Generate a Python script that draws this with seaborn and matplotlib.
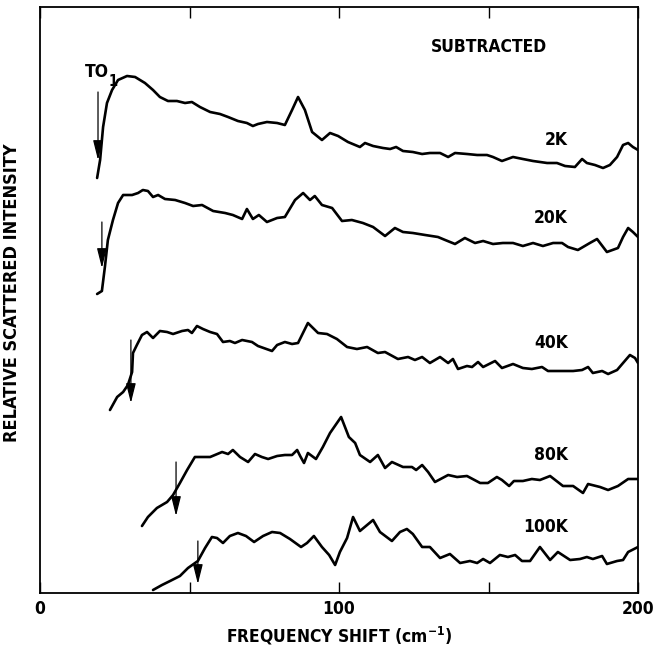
import numpy as np
import pandas as pd
import matplotlib
matplotlib.use("Agg")
import matplotlib.pyplot as plt
import seaborn as sns
from matplotlib import font_manager

# ---------------- data (frequency shift in cm^-1, relative intensity in arbitrary units) -------------
x_2k = [19.1, 20.1, 21.1, 22.4, 24.1, 26.1, 29.1, 31.8, 35.1, 37.8, 40.1, 42.8, 45.8, 48.5, 50.8, 53.5,
        56.9, 60.2, 62.9, 66.2, 69.2, 71.2, 72.9, 75.9, 79.3, 81.9, 84.3, 86.3, 88.6, 91.0, 94.3, 97.0,
        99.7, 103.0, 107.0, 108.7, 111.4, 114.7, 117.1, 119.1, 121.4, 124.7, 127.8, 130.4, 133.8, 136.5,
        138.8, 142.8, 146.2, 149.5, 151.5, 154.5, 158.2, 161.5, 164.9, 169.6, 172.9, 175.6, 178.9, 181.3,
        182.9, 185.6, 188.3, 190.6, 193.0, 195.0, 196.7, 198.3, 200.0]
y_2k = [415, 433, 466, 490, 503, 513, 517, 516, 510, 503, 496, 492, 492, 490, 491, 486, 481, 479, 476, 472,
        470, 467, 469, 471, 470, 468, 483, 496, 483, 461, 453, 460, 457, 451, 446, 450, 447, 445, 444, 446,
        442, 441, 439, 440, 440, 436, 440, 439, 438, 438, 436, 432, 436, 434, 432, 430, 430, 427, 426, 434,
        430, 428, 425, 428, 436, 448, 450, 446, 443]

x_20k = [19.1, 20.7, 21.7, 22.7, 24.4, 26.1, 27.8, 30.8, 32.8, 34.4, 36.1, 37.8, 39.5, 41.8, 45.2, 48.5,
         51.2, 54.2, 57.9, 61.9, 64.5, 67.6, 69.2, 71.2, 73.2, 75.9, 79.3, 81.9, 85.3, 88.0, 90.3, 91.9,
         94.3, 97.7, 101.0, 104.3, 108.0, 111.4, 115.4, 118.7, 121.4, 124.7, 128.8, 133.1, 135.5, 138.8,
         142.1, 145.5, 148.2, 151.5, 154.8, 158.2, 161.5, 164.9, 168.2, 171.6, 174.6, 176.6, 179.9, 183.9,
         186.3, 189.6, 193.3, 195.0, 196.7, 198.3, 200.0]
y_20k = [299, 302, 326, 353, 373, 390, 398, 398, 400, 403, 402, 396, 398, 394, 393, 390, 387, 388, 382, 380,
         378, 374, 384, 374, 378, 371, 375, 376, 393, 400, 393, 397, 388, 385, 372, 373, 370, 366, 357, 365,
         361, 360, 358, 356, 353, 349, 355, 350, 352, 349, 350, 350, 347, 350, 347, 350, 350, 346, 343, 350,
         354, 341, 345, 356, 365, 361, 356]

x_40k = [23.4, 25.8, 27.8, 29.4, 30.8, 31.1, 32.4, 34.1, 35.8, 37.8, 40.1, 42.5, 44.5, 47.5, 49.5, 50.8,
         52.5, 54.5, 56.9, 59.2, 61.2, 63.5, 65.2, 67.6, 70.9, 72.9, 77.6, 79.3, 81.9, 84.3, 86.3, 89.6,
         93.0, 96.0, 99.3, 102.7, 106.0, 109.4, 113.0, 115.4, 119.7, 123.1, 125.4, 127.8, 130.4, 133.8,
         136.5, 138.1, 139.8, 142.8, 144.5, 146.5, 148.2, 152.2, 154.5, 158.2, 161.5, 164.5, 167.9, 169.9,
         173.9, 178.3, 181.3, 183.3, 184.9, 188.0, 190.0, 193.0, 195.0, 197.3, 199.0, 200.0]
y_40k = [183, 196, 201, 208, 221, 240, 248, 258, 261, 255, 262, 261, 259, 262, 263, 260, 267, 264, 261, 259,
         251, 252, 250, 253, 251, 247, 242, 248, 251, 249, 250, 270, 260, 259, 254, 246, 244, 246, 240, 241,
         234, 236, 233, 236, 230, 236, 230, 234, 224, 227, 226, 231, 226, 232, 225, 229, 225, 224, 226, 222,
         222, 222, 223, 226, 220, 222, 219, 223, 230, 238, 235, 230]

x_80k = [34.1, 36.1, 39.1, 42.5, 44.5, 46.8, 49.2, 51.8, 54.2, 56.9, 60.9, 62.9, 64.5, 66.9, 69.6, 71.9,
         74.2, 76.3, 79.3, 81.9, 84.3, 86.0, 87.0, 88.3, 89.6, 92.3, 94.6, 97.0, 100.7, 102.0, 103.3, 105.4,
         107.0, 110.4, 113.0, 115.4, 117.7, 121.4, 124.4, 125.8, 127.8, 129.8, 132.1, 136.5, 139.5, 142.8,
         147.2, 149.8, 152.8, 154.5, 156.9, 158.5, 161.5, 164.5, 167.2, 170.6, 174.9, 178.3, 181.6, 183.3,
         187.3, 190.0, 193.3, 196.7, 200.0]
y_80k = [67, 76, 85, 91, 98, 110, 123, 136, 136, 136, 141, 139, 143, 136, 131, 139, 136, 134, 137, 138,
         138, 143, 137, 130, 140, 134, 146, 160, 176, 166, 156, 150, 138, 131, 138, 125, 131, 126, 126, 123,
         128, 121, 111, 118, 116, 117, 110, 110, 116, 113, 107, 112, 112, 114, 113, 117, 107, 107, 100, 109,
         106, 103, 107, 114, 114]

x_100k = [37.8, 40.8, 43.5, 46.8, 49.5, 52.8, 55.2, 57.5, 59.2, 61.2, 63.5, 66.2, 68.9, 71.6, 74.6, 77.6,
          80.3, 83.6, 87.3, 89.3, 91.6, 94.3, 96.7, 98.7, 100.3, 102.7, 104.7, 107.0, 111.4, 113.7, 117.7,
          120.4, 122.7, 124.7, 127.8, 130.4, 133.8, 137.1, 140.5, 143.8, 146.2, 148.2, 150.5, 153.8, 156.5,
          158.9, 161.2, 163.9, 167.2, 170.6, 173.2, 177.3, 180.6, 182.9, 184.9, 188.0, 189.6, 193.0, 195.0,
          196.7, 200.0]
y_100k = [3, 8, 12, 17, 25, 32, 45, 56, 55, 50, 57, 60, 57, 51, 57, 61, 60, 54, 46, 50,
          57, 46, 38, 28, 41, 55, 76, 62, 73, 61, 52, 61, 64, 59, 46, 46, 35, 39, 30, 32,
          30, 34, 30, 38, 36, 38, 32, 32, 46, 33, 41, 33, 34, 36, 34, 37, 29, 32, 33, 41, 46]

series_labels = ["2K", "20K", "40K", "80K", "100K"]
label_y = [453, 375, 250, 138, 66]
# TO1 arrows: (frequency, arrow start intensity, arrow tip intensity)
arrow_x = [19.4, 20.7, 30.4, 45.5, 52.8]
arrow_top = [501, 371, 253, 131, 52]
arrow_tip = [433, 325, 190, 77, 9]

xs = [x_2k, x_20k, x_40k, x_80k, x_100k]
ys = [y_2k, y_20k, y_40k, y_80k, y_100k]

# ---------------- style ----------------
sns.set_style("white")
fonts = font_manager.fontManager.ttflist
avail = {f.name for f in fonts}
condensed_dejavu = any(f.name == "DejaVu Sans" and "ondensed" in str(f.stretch) or
                       (f.name == "DejaVu Sans" and "Condensed" in f.fname) for f in fonts)
if "Liberation Sans Narrow" in avail:
    fam, stretch = ["Liberation Sans Narrow", "DejaVu Sans"], "normal"
elif condensed_dejavu:
    fam, stretch = ["DejaVu Sans"], "condensed"
else:
    fam, stretch = ["Liberation Sans", "DejaVu Sans"], "normal"
plt.rcParams["font.family"] = fam
plt.rcParams["font.stretch"] = stretch
plt.rcParams["font.weight"] = "bold"
plt.rcParams["text.color"] = "black"
plt.rcParams["axes.labelcolor"] = "black"
plt.rcParams["xtick.color"] = "black"
plt.rcParams["ytick.color"] = "black"
plt.rcParams["axes.edgecolor"] = "black"
plt.rcParams["mathtext.fontset"] = "custom"
plt.rcParams["mathtext.bf"] = fam[0] + ":bold"

fs = 12.5
fig = plt.figure(figsize=(6.55, 6.48), dpi=100)
ax = fig.add_axes([40 / 655, 55 / 648, 598 / 655, 586 / 648])

frames = []
for lab, xv, yv in zip(series_labels, xs, ys):
    frames.append(pd.DataFrame({"shift": xv, "intensity": yv, "T": lab}))
df = pd.concat(frames, ignore_index=True)

for lab in series_labels:
    sub = df[df["T"] == lab]
    sns.lineplot(data=sub, x="shift", y="intensity", ax=ax, color="black", lw=1.9,
                 sort=False, estimator=None, legend=False)

for lab, yl in zip(series_labels, label_y):
    ax.text(176.6, yl, lab, ha="right", va="center", fontsize=fs, fontweight="bold",
            fontstretch=stretch, color="black")

ax.text(169.6, 546, "SUBTRACTED", ha="right", va="center", fontsize=fs, fontweight="bold",
        fontstretch=stretch, color="black")
ax.text(15.0, 521, "TO", ha="left", va="center", fontsize=fs, fontweight="bold",
        fontstretch=stretch, color="black")
ax.text(22.8, 511, "1", ha="left", va="center", fontsize=10.5, fontweight="bold",
        fontstretch=stretch, color="black")

for xa, yt, yp in zip(arrow_x, arrow_top, arrow_tip):
    ax.annotate("", xy=(xa, yp), xytext=(xa, yt),
                arrowprops=dict(arrowstyle="-|>,head_length=0.6,head_width=0.15",
                                color="black", lw=0.9, mutation_scale=20,
                                shrinkA=0, shrinkB=0))

ax.set_xlim(0, 200)
ax.set_ylim(0, 586)
ax.set_xticks([0, 100, 200])
ax.set_xticklabels(["0", "100", "200"], fontsize=fs, fontweight="bold", fontstretch=stretch)
ax.set_xticks([50, 150], minor=True)
ax.set_yticks([])
ax.tick_params(axis="x", which="both", direction="in", length=8, width=1.0,
               top=True, bottom=True, pad=5, color="black", labelcolor="black")
for s in ax.spines.values():
    s.set_linewidth(1.3)
    s.set_color("black")

ax.set_xlabel("FREQUENCY SHIFT (cm$^{\\mathbf{-1}}$)", fontsize=fs, fontweight="bold",
              fontstretch=stretch, color="black")
ax.xaxis.set_label_coords(0.5, -0.055)
ax.set_ylabel("RELATIVE SCATTERED INTENSITY", fontsize=13, fontweight="bold",
              fontstretch=stretch, color="black")
ax.yaxis.set_label_coords(-0.032, 0.512)

fig.savefig("out.png", dpi=100, facecolor="white")
